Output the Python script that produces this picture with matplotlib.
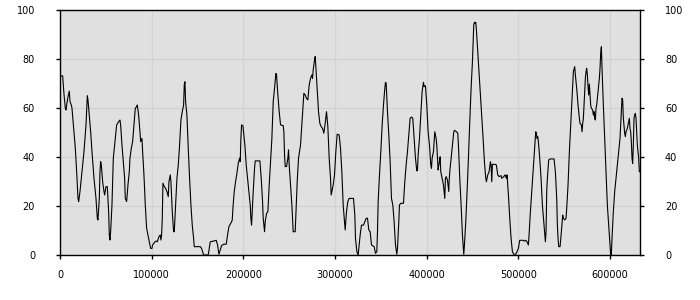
import matplotlib
matplotlib.use("Agg")
import matplotlib.pyplot as plt

# sample position along the record and the value at it
positions = [
    0, 2908, 4362, 5816, 6543, 7270, 8724, 10178, 10905, 12359, 13086, 15267,
    16721, 18175, 19629, 20356, 21810, 23991, 26172, 28353, 29807, 30534, 31988,
    33442, 34896, 37077, 39258, 40712, 41439, 42893, 43620, 44347, 45074, 46528,
    47982, 48709, 50163, 51617, 52344, 53071, 53798, 54525, 55252, 56706, 58160,
    59614, 61068, 61795, 63976, 65430, 66157, 67611, 69065, 70519, 71246, 72700,
    74154, 75608, 76335, 77789, 79243, 80697, 82151, 83605, 84332, 85786, 87240,
    87967, 89421, 90148, 91602, 93056, 94510, 95964, 97418, 98872, 100326,
    101053, 103234, 104688, 106142,
    107960, 109414, 110141, 110868, 111595, 112322, 113776, 115230, 116684,
    118138, 118865, 120319, 121046, 122500, 123954, 124681, 126135, 127589,
    129043, 130497, 131951, 133405, 134859, 135586, 136313, 137040, 138494,
    139948, 141402, 142856, 144310, 145764, 146491, 148672, 153034, 154488,
    156669, 161758, 163939, 167574, 170482, 171936, 173390, 174844, 176298,
    178479, 181387, 182841, 184295, 185749, 187203, 187930, 188657, 190111,
    191565, 193019, 194473, 195927, 196654, 197381, 198108, 199562, 200289,
    201743, 203197, 204651, 206105, 207559, 208286, 209013,
    209376, 210830, 212284, 213011, 218100, 219554, 221008, 221735, 222462,
    223189, 223916, 225370, 226824, 228278, 229732, 231186, 232640, 234094,
    235548, 236275, 237729, 239183, 240637, 243545, 244272, 244999, 245726,
    247180, 248634, 249361, 250088, 251542, 252996, 254450, 256631, 257358,
    258812, 260266, 262447, 263901, 265355, 266082, 267536, 268990, 270444,
    271898, 273352, 274806, 275533, 276260, 276987, 277714, 278441, 279168,
    280622, 282076, 283530, 284984, 286438, 287892, 289346, 290800, 292254,
    293708, 295162, 295889, 297343, 298070, 299524, 300978, 302432, 304613,
    306067, 307521, 308975, 310429, 311156, 312610, 314064, 315518, 318426,
    320244, 321698, 322425, 323879, 325333, 326060, 327514, 328968, 331149,
    332603, 334057, 335511, 336965, 338419, 339873, 342781, 344235, 345689,
    346416, 347143, 348597, 350051, 351505, 352959, 354413, 355140, 355867,
    357321, 358775, 360229, 361683, 363137, 364591, 366045, 367499, 368226,
    369680, 370407, 371861, 374769, 376223, 377677, 379131, 380585, 382039,
    383493, 384947, 386401, 387855, 389309, 390036, 390763, 392217, 393671,
    395125, 396579, 397306, 398760, 400214, 401668, 403122, 404576, 405303,
    406030, 407484, 408211, 408938, 410392, 411119, 411846, 412573, 413300,
    414027, 414754, 415481, 416935, 418389, 419843, 420570, 421297, 422751,
    424205,
    424568, 425295, 426749, 428203, 429657, 430384, 432565, 434019, 434746,
    436200, 437654, 439108, 440562, 441289, 442743, 444197, 445651, 447105,
    448559, 450013, 451467, 452194, 452921, 453648, 454375, 455829, 457283,
    458737, 460191, 461645, 463099, 464553, 465280, 466734, 468188, 469642,
    470369, 471096, 471823, 474731, 476185, 477639, 479093, 481274, 482001,
    484182, 485636, 487090, 487817, 489271, 490725, 492179, 493633, 495087,
    497268, 498722, 500176, 501630, 505265, 506719, 508173, 509627, 511081,
    511808, 513262, 514716, 516170, 517624, 519078, 519805, 520532, 521259,
    521986, 523440, 524894, 526348, 527802,
    529620, 530347, 531074, 531801, 533255, 534709, 539071, 540525, 541979,
    542706, 543433, 544160, 545614, 547068, 548522, 549249, 550703, 552157,
    552884, 554338, 555792, 557246, 558700, 560154, 561608, 562335, 563789,
    565243, 566697, 567424, 568878, 569605, 570332, 571059, 571786, 573240,
    573967, 574694, 575421, 576148, 576875, 577602, 578329, 579056, 579783,
    581237, 581964, 582691, 583418, 584145, 584872, 585599, 587053, 588507,
    589234, 589961, 590688, 591415, 592869, 594323, 595777, 597231, 598685,
    600139, 600866, 601593, 602320, 603774, 605228, 606682, 608136, 609590,
    611044, 612498, 613225, 613952, 614679, 616133, 616860, 617587, 619041,
    620495, 621222, 621949, 622676, 623403, 624130, 624857, 625584, 626311,
    627038, 627765, 628492, 629946, 631400, 632127, 632854,
]
values = [
    73.1, 73.1, 65.6, 59.9, 59.2, 61.2, 64.6, 66.9, 62.6, 61.2, 59.9, 50.3,
    43.5, 34.0, 23.1, 21.8, 25.9, 34.0, 42.2, 53.0, 65.0, 63.3, 57.0,
    50.3, 42.2, 31.3, 23.1, 15.0, 14.3, 23.1, 34.0, 38.1, 36.7, 29.9,
    25.9, 24.5, 27.9, 27.9, 23.1, 17.7, 8.2, 6.1, 9.5, 20.4, 39.5,
    44.9, 50.3, 53.1, 54.4, 55.1, 53.1, 44.9, 38.1, 31.3, 23.1, 21.8,
    28.6, 34.0, 39.5, 43.5, 46.3, 53.1, 59.9, 60.5, 61.2, 57.1, 50.3,
    46.3, 47.6, 42.2, 32.7, 20.4, 10.9, 8.2, 5.4, 2.7, 2.7,
    4.1, 5.2, 5.7, 5.4,
    7.5, 8.2, 6.1, 8.2, 15.0, 29.3, 27.9, 27.2, 25.9,
    23.8, 29.9, 32.7, 29.9, 17.7, 9.5, 9.5, 20.4, 31.3,
    36.7, 44.9, 55.1, 58.5, 61.2, 69.4, 70.7, 62.6, 57.1,
    43.5, 31.3, 20.4, 12.2, 6.8, 3.4, 3.4, 3.4, 2.7,
    0.0, 0.0, 5.4, 5.7, 6.0, 4.1, 0.3, 2.0, 3.8,
    4.4, 4.4, 8.2, 11.6, 12.5, 13.6, 14.3, 19.0, 25.9,
    29.9, 33.3, 37.4, 39.5, 38.1, 47.6, 53.1, 52.8, 50.3,
    44.9, 36.7, 31.3, 25.9, 20.4, 15.0, 12.2,
    15.0, 25.9, 35.4, 38.4, 38.4, 31.3, 21.8, 15.0, 12.2,
    9.5, 13.6, 17.0, 17.7, 28.6, 38.1, 47.6, 62.6, 68.0,
    74.1, 73.5, 65.3, 58.5, 53.1, 52.8, 50.3, 40.8, 36.1,
    36.1, 39.5, 42.9, 36.7, 28.6, 20.4, 9.5, 9.5, 16.3,
    29.9, 39.5, 44.9, 53.1, 61.2, 66.0, 65.3, 63.9, 63.3,
    69.4, 72.1, 73.5, 72.1, 75.5, 77.6, 79.6, 81.0, 76.9,
    68.0, 58.5, 53.7, 52.4, 51.7, 49.7, 53.7, 58.5, 52.4,
    39.5, 31.3, 24.5, 27.2, 28.6, 32.7, 42.2, 49.3, 49.0,
    43.5, 34.0, 20.4, 13.6, 10.2, 17.7, 21.8, 23.1, 23.1,
    23.1, 16.3, 6.8, 1.4, 0.0, 2.7, 8.2, 12.2, 12.2,
    13.6, 15.0, 15.0, 10.2, 9.5, 4.1, 3.4, 0.7, 1.4,
    9.5, 21.8, 32.7, 42.2, 53.1, 61.2, 68.0, 70.5, 70.1,
    58.5, 49.0, 38.1, 23.1, 20.4, 13.6, 4.1, 0.3, 2.7,
    13.6, 20.4, 21.1, 21.1, 29.9, 36.7, 42.2, 49.0, 55.8,
    56.3, 55.8, 47.6, 39.5, 34.3, 34.6, 40.8, 47.6, 57.1,
    66.7, 70.5, 68.7, 69.1, 61.2, 50.3, 44.9, 36.7, 35.4,
    39.5, 42.2, 46.3, 50.3, 47.6, 44.9, 39.5, 34.7, 36.7,
    38.1, 40.1, 34.0, 31.3, 28.6, 23.1, 31.3, 32.0, 30.6,
    25.9,
    29.9, 34.0, 39.5, 44.9, 50.3, 50.9, 50.3, 49.7, 44.9,
    31.3, 20.4, 8.2, 0.3, 4.1, 13.6, 25.9, 39.5, 54.4,
    68.0, 78.9, 93.9, 95.0, 94.6, 95.0, 91.8, 83.0, 74.8,
    65.3, 57.1, 47.6, 38.1, 31.3, 29.9, 32.7, 34.0, 38.1,
    36.7, 29.9, 37.0, 37.0, 36.7, 32.7, 32.0, 32.4, 31.3,
    32.0, 32.7, 31.3, 32.7, 24.5, 15.0, 6.8, 1.4, 0.3,
    0.3, 1.4, 2.7, 6.0, 6.0, 5.7, 6.0, 5.4, 4.1,
    8.2, 17.7, 25.9, 34.0, 42.2, 50.3, 49.7, 47.6, 48.3,
    46.3, 39.5, 31.3, 20.4, 13.6,
    5.4, 9.5, 25.9, 31.3, 38.8, 39.2, 39.2, 34.0, 23.1,
    12.2, 6.8, 3.4, 3.4, 9.5, 16.3, 15.0, 14.3, 15.0,
    19.0, 28.6, 42.2, 53.1, 64.0, 74.8, 76.9, 73.5, 68.0,
    61.2, 55.8, 53.7, 53.1, 50.3, 53.7, 55.8, 61.2, 72.1,
    74.8, 76.2, 73.5, 68.7, 65.3, 69.8, 65.3, 61.2, 59.9,
    59.2, 57.1, 58.5, 55.8, 55.1, 59.9, 61.2, 66.7, 72.1,
    76.2, 82.3, 85.0, 76.2, 61.2, 47.6, 34.0, 20.4, 12.2,
    4.1, 0.0, 0.3, 6.8, 17.7, 25.9, 31.3, 36.7, 42.2,
    47.6, 58.5, 64.0, 63.3, 55.8, 49.7, 48.3, 50.3, 51.7,
    54.4, 55.8, 51.7, 50.3, 46.3, 39.5, 37.4, 44.9, 55.8,
    57.1, 57.8, 55.8, 44.9, 39.5, 34.0, 34.0,
]

x_ticks = [0, 100000, 200000, 300000, 400000, 500000, 600000]
y_ticks = [0, 20, 40, 60, 80, 100]

fig = plt.figure(figsize=(7, 3), dpi=100)
ax = fig.add_axes([60 / 700, 45 / 300, 580 / 700, 245 / 300])
ax.set_facecolor("#e0e0e0")

ax.plot(positions, values, color="black", linewidth=0.8)

ax.set_xlim(0, positions[-1])
ax.set_ylim(0, 100)
ax.set_xticks(x_ticks)
ax.set_yticks(y_ticks)
ax.set_xticklabels([str(t) for t in x_ticks])
ax.set_yticklabels([str(t) for t in y_ticks])

ax.grid(True, color="#d2d2d2", linewidth=0.9)
ax.set_axisbelow(True)
for spine in ax.spines.values():
    spine.set_color("black")
    spine.set_linewidth(1.0)

ax.tick_params(axis="x", direction="out", length=3, width=1, pad=8,
               labelsize=7, colors="black")
ax.tick_params(axis="y", direction="out", length=3, width=1, pad=15,
               labelsize=7, colors="black", right=True, labelright=True)

fig.savefig("out.png", dpi=100)
